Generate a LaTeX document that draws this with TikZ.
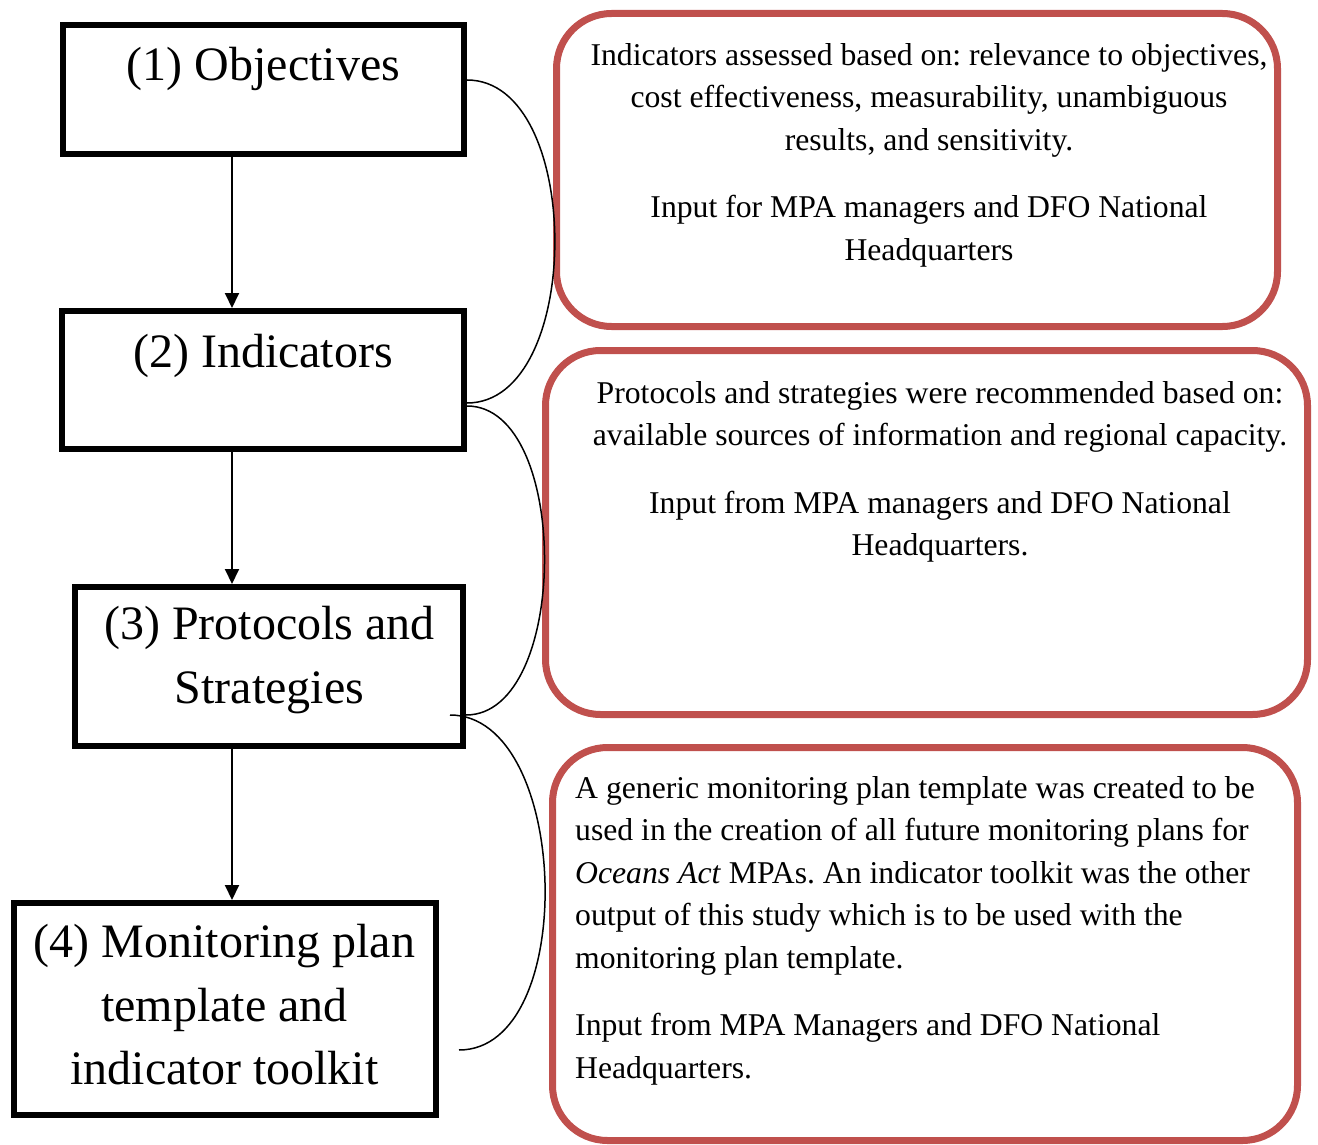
\documentclass[tikz,border=0pt]{standalone}
\usepackage{fontspec}
\setmainfont{Liberation Serif}
\usetikzlibrary{arrows.meta}
\definecolor{boxred}{RGB}{192,80,77}
\tikzset{
  stepbox/.style={draw=black,line width=6pt,inner sep=0pt,fill=none},
  notebox/.style={draw=boxred,line width=7pt,rounded corners=55pt,inner sep=0pt},
  bigtext/.style={inner sep=0pt,align=center,font=\fontsize{48}{63.5}\selectfont\frenchspacing},
  smalltext/.style={inner sep=0pt,font=\fontsize{31.7}{42.5}\selectfont\frenchspacing},
  arr/.style={line width=2pt,-{Triangle[length=15pt,width=14pt]}},
  conn/.style={line width=1.5pt}
}
\begin{document}
\begin{tikzpicture}[x=1pt,y=-1pt]
\useasboundingbox (0,0) rectangle (1318,1145);
% left step boxes
\node[stepbox,minimum width=401pt,minimum height=129pt] (b1) at (263.5,89.5) {};
\node[stepbox,minimum width=402pt,minimum height=138pt] (b2) at (263,380) {};
\node[stepbox,minimum width=388pt,minimum height=159pt] (b3) at (269,666.5) {};
\node[stepbox,minimum width=422pt,minimum height=212pt] (b4) at (224.5,1009) {};
\node[bigtext,anchor=north] (t1) at (263.5,47) {(1) Objectives};
\node[bigtext,anchor=north] (t2) at (263,334) {(2) Indicators};
\node[bigtext,anchor=north] (t3) at (269.5,606) {(3) Protocols and\\Strategies};
\node[bigtext,anchor=north] (t4) at (224.5,924) {(4) Monitoring plan\\template and\\indicator toolkit};
% right note boxes
\node[notebox,minimum width=721pt,minimum height=313pt] (nA) at (917,170) {};
\node[notebox,minimum width=762pt,minimum height=364pt] (nB) at (926.5,532.5) {};
\node[notebox,minimum width=745pt,minimum height=393pt] (nC) at (925,944) {};
\node[smalltext,align=center,anchor=north] (tA) at (929,43) {Indicators assessed based on: relevance to objectives,\\cost effectiveness, measurability, unambiguous\\results, and sensitivity.\\[25pt]Input for MPA managers and DFO National\\Headquarters};
\node[smalltext,align=center,anchor=north] (tB) at (940,381) {Protocols and strategies were recommended based on:\\available sources of information and regional capacity.\\[25pt]Input from MPA managers and DFO National\\Headquarters.};
\node[smalltext,align=left,anchor=north west] (tC) at (575,776) {A generic monitoring plan template was created to be\\used in the creation of all future monitoring plans for\\\textit{Oceans Act} MPAs. An indicator toolkit was the other\\output of this study which is to be used with the\\monitoring plan template.\\[25pt]Input from MPA Managers and DFO National\\Headquarters.};
% arrows
\coordinate (ax) at (232,0);
\draw[arr] (b1.south -| ax) -- (b2.north -| ax);
\draw[arr] (b2.south -| ax) -- (b3.north -| ax);
\draw[arr] (b3.south -| ax) -- (b4.north -| ax);
% brace connectors
\coordinate (c3s) at (450,715);
\coordinate (c3e) at (459,1050);
\draw[conn] (b1.east |- 0,80) to[out=0,in=0,looseness=0.93] (b2.east |- 0,403);
\draw[conn] (b2.east |- 0,406) to[out=0,in=0,looseness=0.86] (b3.east |- 0,715);
\draw[conn] (c3s) to[out=0,in=0,looseness=0.92] (c3e);
\end{tikzpicture}
\end{document}
